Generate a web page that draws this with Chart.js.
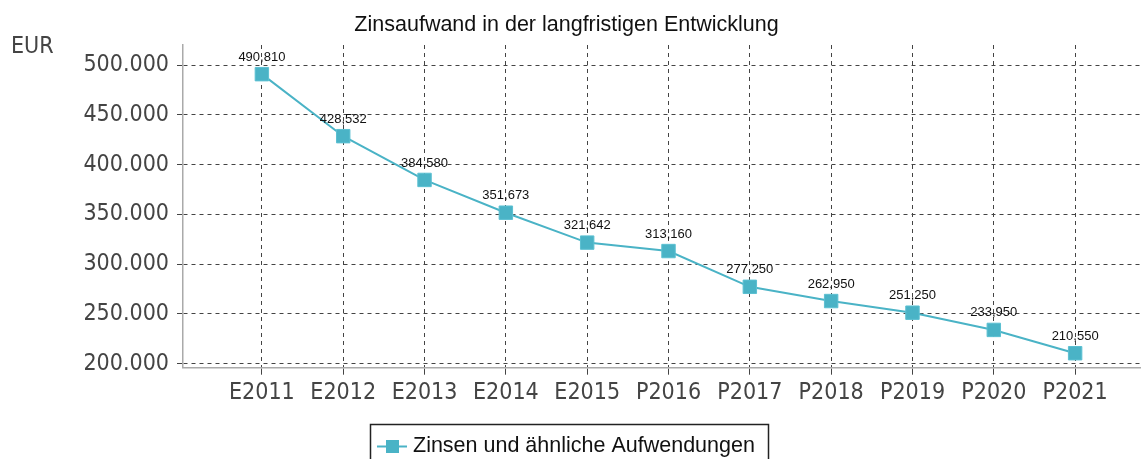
<!DOCTYPE html>
<html><head><meta charset="utf-8">
<script src="https://cdn.jsdelivr.net/npm/chart.js@4.4.0/dist/chart.umd.min.js"></script>
<style>html,body{margin:0;padding:0;background:#fff}#wrap{width:1141px;height:459px}</style>
</head><body><div id="wrap"><canvas id="c" width="1141" height="459"></canvas></div>
<script>
const categories = ["E2011","E2012","E2013","E2014","E2015","P2016","P2017","P2018","P2019","P2020","P2021"];
const values = [490810,428532,384580,351673,321642,313160,277250,262950,251250,233950,210550];
const yTicks = [200000,250000,300000,350000,400000,450000,500000];
const seriesName = "Zinsen und ähnliche Aufwendungen";
const chartTitle = "Zinsaufwand in der langfristigen Entwicklung";
const yUnit = "EUR";

const COLOR = "#4ab3c6";
const AXISFONT = '"DejaVu Sans Condensed", "DejaVu Sans", Verdana, sans-serif';
const fmtDE = v => v.toLocaleString('de-DE');
const fmtLabel = v => v.toLocaleString('en-US');

const extras = {
  id: 'extras',
  afterDatasetsDraw(chart) {
    const ctx = chart.ctx;
    const meta = chart.getDatasetMeta(0);
    ctx.save();
    ctx.fillStyle = '#111';
    ctx.font = '13px "Liberation Sans", Arial, sans-serif';
    ctx.textAlign = 'center';
    ctx.textBaseline = 'middle';
    meta.data.forEach((pt, i) => {
      ctx.fillText(fmtLabel(values[i]), pt.x, pt.y - 17);
    });
    ctx.restore();
  },
  afterDraw(chart) {
    const ctx = chart.ctx;
    ctx.save();
    ctx.fillStyle = '#111';
    ctx.font = '21.5px "Liberation Sans", Arial, sans-serif';
    ctx.textAlign = 'center';
    ctx.textBaseline = 'alphabetic';
    ctx.fillText(chartTitle, 566.5, 31);
    ctx.fillStyle = '#444';
    ctx.font = '23px ' + AXISFONT;
    ctx.textAlign = 'left';
    ctx.fillText(yUnit, 11, 53);
    ctx.strokeStyle = '#222';
    ctx.lineWidth = 1.5;
    ctx.strokeRect(370.5, 424.5, 398, 45);
    ctx.strokeStyle = COLOR;
    ctx.lineWidth = 2;
    ctx.beginPath(); ctx.moveTo(377, 446.5); ctx.lineTo(407, 446.5); ctx.stroke();
    ctx.fillStyle = COLOR;
    ctx.fillRect(386, 440, 13, 13);
    ctx.fillStyle = '#111';
    ctx.font = '21.5px "Liberation Sans", Arial, sans-serif';
    ctx.textAlign = 'left';
    ctx.fillText(seriesName, 413, 452);
    ctx.restore();
  }
};

new Chart(document.getElementById('c'), {
  type: 'line',
  data: {
    datasets: [{
      label: seriesName,
      data: values.map((v, i) => ({x: i, y: v})),
      borderColor: COLOR,
      backgroundColor: COLOR,
      borderWidth: 2,
      pointStyle: 'rect',
      pointRadius: 9.5,
      pointHoverRadius: 9.5,
      pointBackgroundColor: COLOR,
      pointBorderColor: '#5cc0d2',
      pointBorderWidth: 1,
      tension: 0
    }]
  },
  options: {
    responsive: false,
    animation: false,
    events: [],
    layout: {autoPadding: false, padding: {top: 45, right: 0, left: 0, bottom: 0}},
    plugins: {legend: {display: false}, title: {display: false}, tooltip: {enabled: false}},
    scales: {
      x: {
        type: 'linear',
        min: -0.97,
        max: 10.81,
        afterBuildTicks(s) { s.ticks = categories.map((c, i) => ({value: i})); },
        afterFit(s) { s.height = 91.3; },
        ticks: {
          callback: (v) => categories[v] ?? '',
          color: '#444',
          font: {family: AXISFONT, size: 23},
          padding: 5,
          maxRotation: 0,
          autoSkip: false
        },
        grid: {
          color: '#444',
          lineWidth: 1,
          tickLength: 7
        },
        border: {display: true, color: '#aaa', width: 1.5, dash: [4,4]}
      },
      y: {
        min: 196000,
        max: 520100,
        afterBuildTicks(s) { s.ticks = yTicks.map(v => ({value: v})); },
        afterFit(s) { s.width = 183; },
        ticks: {
          callback: v => fmtDE(v),
          color: '#444',
          font: {family: AXISFONT, size: 23},
          padding: 8
        },
        grid: {
          color: '#444',
          lineWidth: 1,
          tickLength: 6
        },
        border: {display: true, color: '#aaa', width: 1.5, dash: [4,4]}
      }
    }
  },
  plugins: [extras]
});
</script>
</body></html>
